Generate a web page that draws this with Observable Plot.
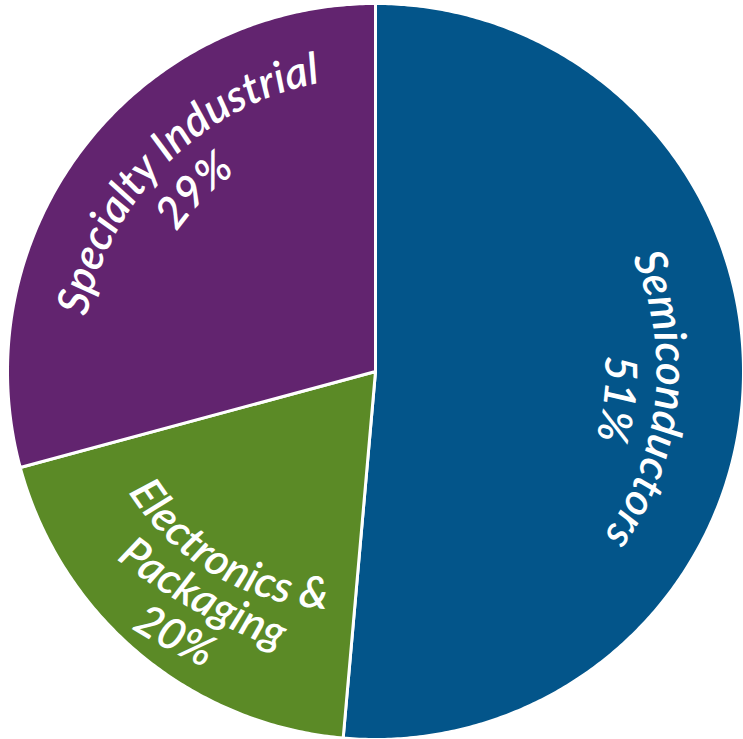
<!DOCTYPE html>
<html><head><meta charset="utf-8">
<script src="https://cdn.jsdelivr.net/npm/d3@7"></script>
<script src="https://cdn.jsdelivr.net/npm/@observablehq/plot@0.6"></script>
<style>html,body{margin:0;padding:0;background:#fff}</style>
</head><body><div id="chart"></div>
<script>
// ---- data ----
const categories = ["Semiconductors", "Electronics & Packaging", "Specialty Industrial"];
const shares = [51.4, 19.4, 29.2];
const percentLabels = ["51%", "20%", "29%"];
const nameLines = [["Semiconductors"], ["Electronics &", "Packaging"], ["Specialty Industrial"]];
const colors = ["#03558a", "#5b8a26", "#62246f"];

// ---- layout (label lines follow arcs) ----
const W = 743, H = 739, CX = 375, CY = 371, R = 368;
const labelAngles = [[96, 96.5], [218.6, 217.2, 216.8], [315, 315]]; // anchor angle, deg clockwise from top
const labelRadii  = [[281, 230], [260, 300, 347], [294, 243]];       // anchor radius (baseline), px
const labelRot    = [[null, null], [30.5, 29, 28], [null, null]];    // text direction at anchor (null = tangent)
const labelCurve  = [[null, null], [250, 600, 600], [null, null]];   // curvature radius px (null = concentric)
const labelDir = [1, -1, 1];           // 1 = runs clockwise (tops outward), -1 = counter-clockwise

const rad = a => a * Math.PI / 180;
const total = d3.sum(shares);
let acc = 0;
const slices = shares.map((v, i) => {
  const a0 = acc / total * 360; acc += v; const a1 = acc / total * 360;
  return {name: categories[i], a0, a1};
});
const piePoints = slices.flatMap(s => {
  const n = Math.ceil((s.a1 - s.a0) / 0.5);
  const pts = [{name: s.name, x: 0, y: 0}];
  for (let k = 0; k <= n; k++) {
    const a = rad(s.a0 + (s.a1 - s.a0) * k / n);
    pts.push({name: s.name, x: Math.sin(a), y: Math.cos(a)});
  }
  pts.push({name: s.name, x: 0, y: 0});
  return pts;
});

const labelData = categories.flatMap((c, i) =>
  [...nameLines[i], percentLabels[i]].map((t, j) => {
    const angle = labelAngles[i][j], dir = labelDir[i], rpx = labelRadii[i][j];
    const rot = labelRot[i][j] ?? (dir > 0 ? angle : angle - 180);
    const rc = labelCurve[i][j] ?? rpx;
    return {text: t, r: rpx / R, angle, dir, rot, rc};
  }));

function arcText(index, scales, values, dimensions, context, next) {
  const g = next(index, scales, values, dimensions, context);
  const texts = g.querySelectorAll("text");
  const ns = "http://www.w3.org/2000/svg";
  const defs = document.createElementNS(ns, "defs");
  g.insertBefore(defs, g.firstChild);
  Array.from(index).forEach((i, k) => {
    const d = labelData[i];
    const x0 = scales.x(d.r * Math.sin(rad(d.angle)));
    const y0 = scales.y(d.r * Math.cos(rad(d.angle)));
    const phi0 = rad(d.rot);
    const pts = d3.range(-200, 201, 2).map(s => {
      const phi = phi0 + d.dir * s / d.rc;
      return [x0 + d.rc * d.dir * (Math.sin(phi) - Math.sin(phi0)),
              y0 + d.rc * d.dir * (Math.cos(phi0) - Math.cos(phi))];
    });
    const id = "arcpath" + i;
    const p = document.createElementNS(ns, "path");
    p.setAttribute("id", id);
    p.setAttribute("d", d3.line()(pts));
    p.setAttribute("fill", "none");
    defs.appendChild(p);
    const el = texts[k];
    if (!el) return;
    el.removeAttribute("transform");
    el.removeAttribute("x"); el.removeAttribute("y");
    el.removeAttribute("dy");
    el.textContent = "";
    const tp = document.createElementNS(ns, "textPath");
    tp.setAttribute("href", "#" + id);
    tp.setAttribute("startOffset", "50%");
    tp.setAttribute("text-anchor", "middle");
    tp.textContent = d.text;
    el.appendChild(tp);
  });
  return g;
}

const chart = Plot.plot({
  width: W, height: H,
  margin: 0,
  x: {domain: [-1, 1], range: [CX - R, CX + R], axis: null},
  y: {domain: [-1, 1], range: [CY + R, CY - R], axis: null},
  color: {domain: categories, range: colors},
  style: {background: "white", overflow: "visible"},
  marks: [
    Plot.line(piePoints, {x: "x", y: "y", z: "name", fill: "name", stroke: "white", strokeWidth: 3, strokeLinejoin: "round"}),
    Plot.text(labelData, {
      x: d => d.r * Math.sin(rad(d.angle)),
      y: d => d.r * Math.cos(rad(d.angle)),
      text: "text",
      rotate: d => d.rot,
      fill: "white",
      fontSize: 44,
      fontFamily: "Lato",
      fontStyle: "italic",
      fontWeight: 600,
      textAnchor: "middle",
      lineAnchor: "bottom",
      render: arcText
    })
  ]
});
document.getElementById("chart").appendChild(chart);
</script>
</body></html>
